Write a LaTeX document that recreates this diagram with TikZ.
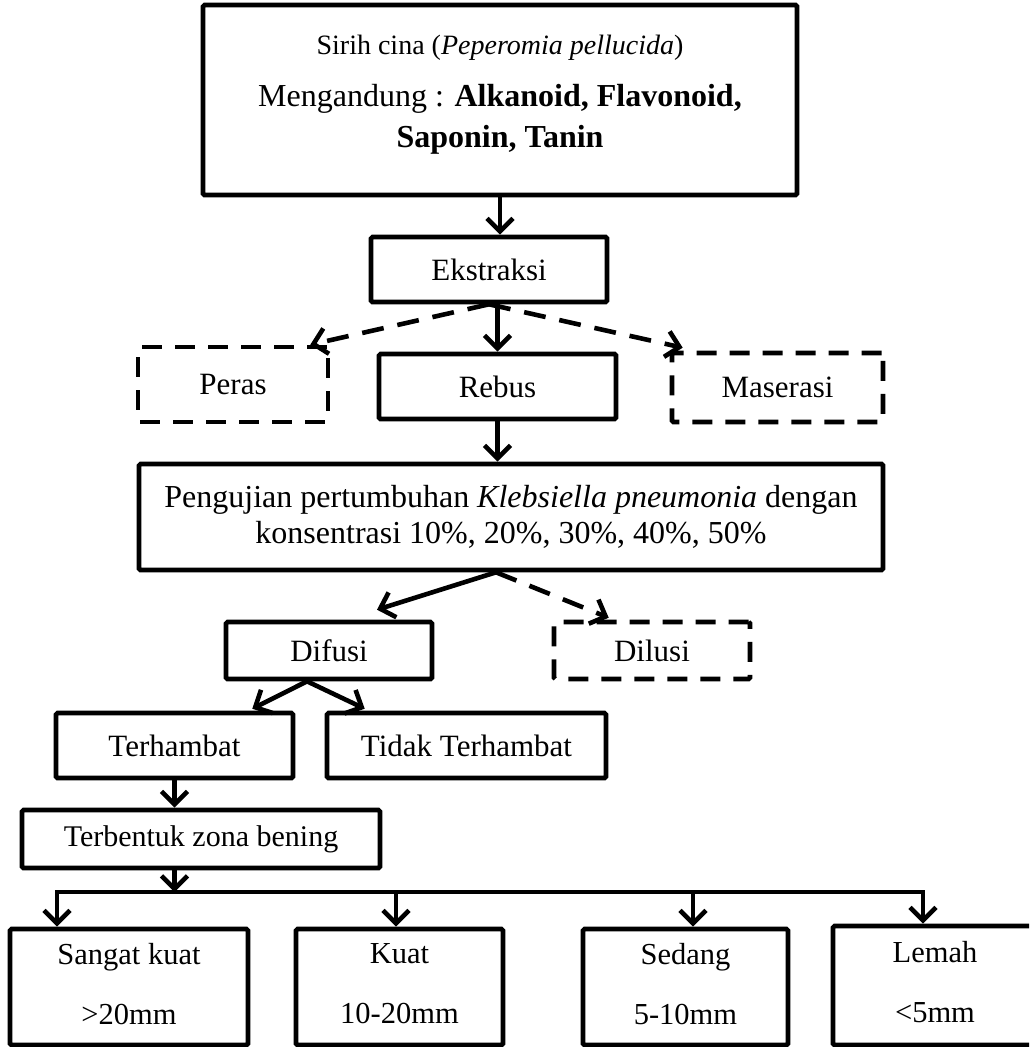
\documentclass[tikz,border=0pt]{standalone}
\usepackage{fontspec}
\setmainfont{Liberation Serif}
\usetikzlibrary{arrows.meta,calc}
\newcommand\sgph{\vphantom{Sgy}}
\begin{document}
\begin{tikzpicture}[x=1pt,y=-1pt,
  box/.style={draw, line width=4.6pt, rounded corners=1.5pt, inner sep=0pt, align=center,
    font=\fontsize{31}{36}\selectfont},
  dbox/.style={box, dash pattern=on 20pt off 13pt},
  catbox/.style={box, minimum height=116pt, font=\fontsize{30.5}{60}\selectfont},
  arr/.style={line width=4.6pt, -{Straight Barb[length=13pt,width=26pt]}},
  darr/.style={arr, dash pattern=on 22pt off 14pt},
  arrboth/.style={line width=4.6pt, line join=miter,
    {Straight Barb[length=13pt,width=26pt]}-{Straight Barb[length=13pt,width=26pt]}}
]
\path[use as bounding box] (0,0) rectangle (1029,1047);
\clip (0,0) rectangle (1029,1047);
\fill[white] (0,0) rectangle (1029,1047);

% nodes
\node[box, minimum width=594pt, minimum height=190pt] (top) at (500,100) {};
\node[font=\fontsize{32}{41}\selectfont, align=center] (topt) at (500,95)
  {{\fontsize{28}{41}\selectfont Sirih cina (\textit{Peperomia pellucida})}\\[11pt]
   Mengandung : \textbf{Alkanoid, Flavonoid,}\\
   \textbf{Saponin, Tanin}};
\node[box, minimum width=236pt, minimum height=65pt] (eks) at (489,269.5) {Ekstraksi};
\node[dbox, minimum width=190pt, minimum height=75pt] (peras) at (233,384.5) {Peras};
\node[box, minimum width=237pt, minimum height=65pt] (rebus) at (497.5,386.5) {Rebus};
\node[dbox, minimum width=211pt, minimum height=69pt] (maser) at (777.5,387.5) {Maserasi};
\node[box, minimum width=744pt, minimum height=106pt, font=\fontsize{32}{36}\selectfont] (uji) at (511,517)
  {Pengujian pertumbuhan \textit{Klebsiella pneumonia} dengan\\
   konsentrasi 10\%, 20\%, 30\%, 40\%, 50\%};
\node[box, minimum width=206pt, minimum height=57pt] (difusi) at (329,650.5) {Difusi};
\node[dbox, minimum width=196pt, minimum height=57pt] (dilusi) at (652,650.5) {Dilusi};
\node[box, minimum width=237pt, minimum height=65pt] (hambat) at (174.5,745.5) {Terhambat};
\node[box, minimum width=279pt, minimum height=65pt] (tidak) at (466.5,745.5) {Tidak Terhambat};
\node[box, minimum width=358pt, minimum height=58pt, font=\fontsize{30}{36}\selectfont] (zona) at (201,839) {Terbentuk zona bening};
\node[catbox, minimum width=238pt] (sangat) at (129,987) {Sangat kuat\sgph\\>20mm\sgph};
\node[catbox, minimum width=207pt] (kuat) at (399.5,987) {Kuat\sgph\\10-20mm\sgph};
\node[catbox, minimum width=205pt] (sedang) at (685.5,987) {Sedang\sgph\\5-10mm\sgph};
\node[catbox, minimum width=204pt, minimum height=119pt] (lemah) at (935,985.5) {Lemah\sgph\\<5mm\sgph};

% connectors
\draw[arr] (top.south) -- (top.south |- eks.north);
\draw[arr] (rebus.north |- eks.south) -- (rebus.north);
\draw[darr] (eks.south) -- ($(peras.north east)+(-20,0)$);
\draw[darr] (eks.south) -- ($(maser.north west)+(13,-3)$);
\draw[arr] (rebus.south) -- (rebus.south |- uji.north);
\coordinate (ujiOut) at ($(uji.south)+(-15,0)$);
\draw[arr] (ujiOut) -- ($(difusi.north)+(48,-10)$);
\draw[darr] (ujiOut) -- ($(dilusi.north west)+(57,-2)$);
\coordinate (difOut) at ($(difusi.south)+(-22,0)$);
\draw[arr] (difOut) -- ($(hambat.north east)+(-43,-2)$);
\draw[arr] (difOut) -- ($(tidak.north west)+(40,-2)$);
\draw[arr] (hambat.south) -- (hambat.south |- zona.north);
\coordinate (busL) at (57,892);
\coordinate (busR) at (923,892);
\draw[arr] (hambat.south |- zona.south) -- (hambat.south |- busL);
\draw[arrboth] (busL |- sangat.north) -- (busL) -- (busR) -- (busR |- lemah.north);
\coordinate (kuatT) at ($(kuat.north)+(-3.5,0)$);
\coordinate (sedT) at ($(sedang.north)+(7.5,0)$);
\draw[arr] (kuatT |- busL) -- (kuatT);
\draw[arr] (sedT |- busL) -- (sedT);
\end{tikzpicture}
\end{document}
